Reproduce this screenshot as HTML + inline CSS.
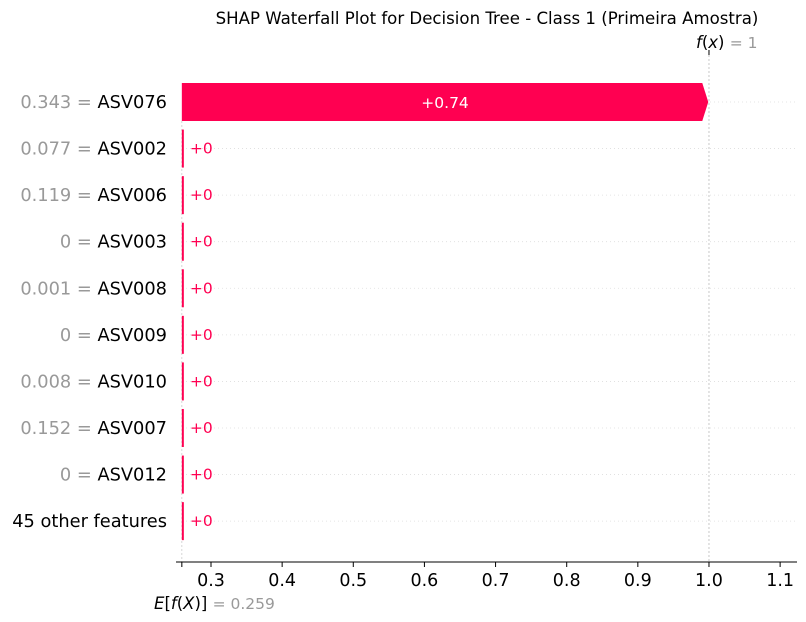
<!DOCTYPE html>
<html><head><meta charset="utf-8"><style>
body{margin:0;background:#fff;}
svg{display:block;font-family:"DejaVu Sans","Liberation Sans",sans-serif;}
</style></head><body>
<svg id="chart" width="806" height="622">
<text x="487" y="24" font-size="16.6" text-anchor="middle" fill="#000">SHAP Waterfall Plot for Decision Tree - Class 1 (Primeira Amostra)</text>
<g id="plot"></g>
</svg>
<script>
const features = ["ASV076","ASV002","ASV006","ASV003","ASV008","ASV009","ASV010","ASV007","ASV012","45 other features"];
const featureValues = ["0.343","0.077","0.119","0","0.001","0","0.008","0.152","0",""];
const shapValues = [0.74,0,0,0,0,0,0,0,0,0];
const shapLabels = ["+0.74","+0","+0","+0","+0","+0","+0","+0","+0","+0"];
const baseValue = 0.259;
const fx = 1;
const xTicks = [0.3,0.4,0.5,0.6,0.7,0.8,0.9,1.0,1.1];
const xTickLabels = ["0.3","0.4","0.5","0.6","0.7","0.8","0.9","1.0","1.1"];

const NS="http://www.w3.org/2000/svg";
const g=document.getElementById('plot');
const X=v=>211+(v-0.3)*711.4;
const Y=i=>102+i*46.57;
const RED="#ff0051";
function mk(t,a,txt){const e=document.createElementNS(NS,t);for(const k in a)e.setAttribute(k,a[k]);if(txt!==undefined)e.textContent=txt;g.appendChild(e);return e;}

let e=mk('line',{x1:X(fx),x2:X(fx),y1:55,y2:562,stroke:"#bbb","stroke-width":0.8,"stroke-dasharray":"2,2"});

e=mk('line',{x1:X(baseValue),x2:X(baseValue),y1:121,y2:567,stroke:"#ccc","stroke-width":0.8,"stroke-dasharray":"2,2"});


let cum=baseValue;
const starts=[];
for(let i=features.length-1;i>=0;i--){starts[i]=cum;cum+=shapValues[i];}

for(let i=0;i<features.length;i++){
  const y=Y(i);
  e=mk('line',{x1:182,x2:797,y1:y,y2:y,stroke:"#ddd","stroke-width":0.8,"stroke-dasharray":"1,3"});
  
  const x0=X(starts[i]),x1=X(starts[i]+shapValues[i]);
  const w=x1-x0;
  if(w>8){
    e=mk('path',{d:`M${x0},${y-19}L${x1-6},${y-19}L${x1},${y}L${x1-6},${y+19}L${x0},${y+19}Z`,fill:RED});
    
    e=mk('text',{x:(x0+x1)/2,y:y+6,"font-size":15.5,fill:"#fff","text-anchor":"middle"},shapLabels[i]);
    
  } else {
    e=mk('rect',{x:x0,y:y-19,width:Math.max(2,w),height:38,fill:RED});
    
    e=mk('text',{x:x0+8,y:y+5,"font-size":15.5,fill:RED},shapLabels[i]);
    
  }
  const t=mk('text',{x:167,y:y+6,"font-size":17.8,"text-anchor":"end",fill:"#000"});
  
  if(featureValues[i]!==""){
    const s=document.createElementNS(NS,'tspan');s.setAttribute('fill','#999');s.textContent=featureValues[i]+" = ";t.appendChild(s);
  }
  const s2=document.createElementNS(NS,'tspan');s2.textContent=features[i];t.appendChild(s2);
}

e=mk('line',{x1:176,x2:797,y1:562,y2:562,stroke:"#000","stroke-width":1});

for(let k=0;k<xTicks.length;k++){
  const x=X(xTicks[k]);
  e=mk('line',{x1:x,x2:x,y1:562,y2:567,stroke:"#000"});
  
  e=mk('text',{x:x,y:586,"font-size":17.5,"text-anchor":"middle"},xTickLabels[k]);
  
}
e=mk('line',{x1:X(baseValue),x2:X(baseValue),y1:562,y2:567,stroke:"#000"});

e=mk('line',{x1:X(fx),x2:X(fx),y1:50,y2:55,stroke:"#000"});


let t=mk('text',{x:154,y:609,"font-size":16.5});

t.innerHTML='<tspan font-style="italic">E</tspan>[<tspan font-style="italic">f</tspan>(<tspan font-style="italic">X</tspan>)] <tspan fill="#999" font-size="15.5">= '+baseValue+'</tspan>';
t=mk('text',{x:696,y:48,"font-size":16.5});

t.innerHTML='<tspan font-style="italic">f</tspan>(<tspan font-style="italic">x</tspan>) <tspan fill="#999" font-size="15.5">= '+fx+'</tspan>';
</script>
</body></html>
